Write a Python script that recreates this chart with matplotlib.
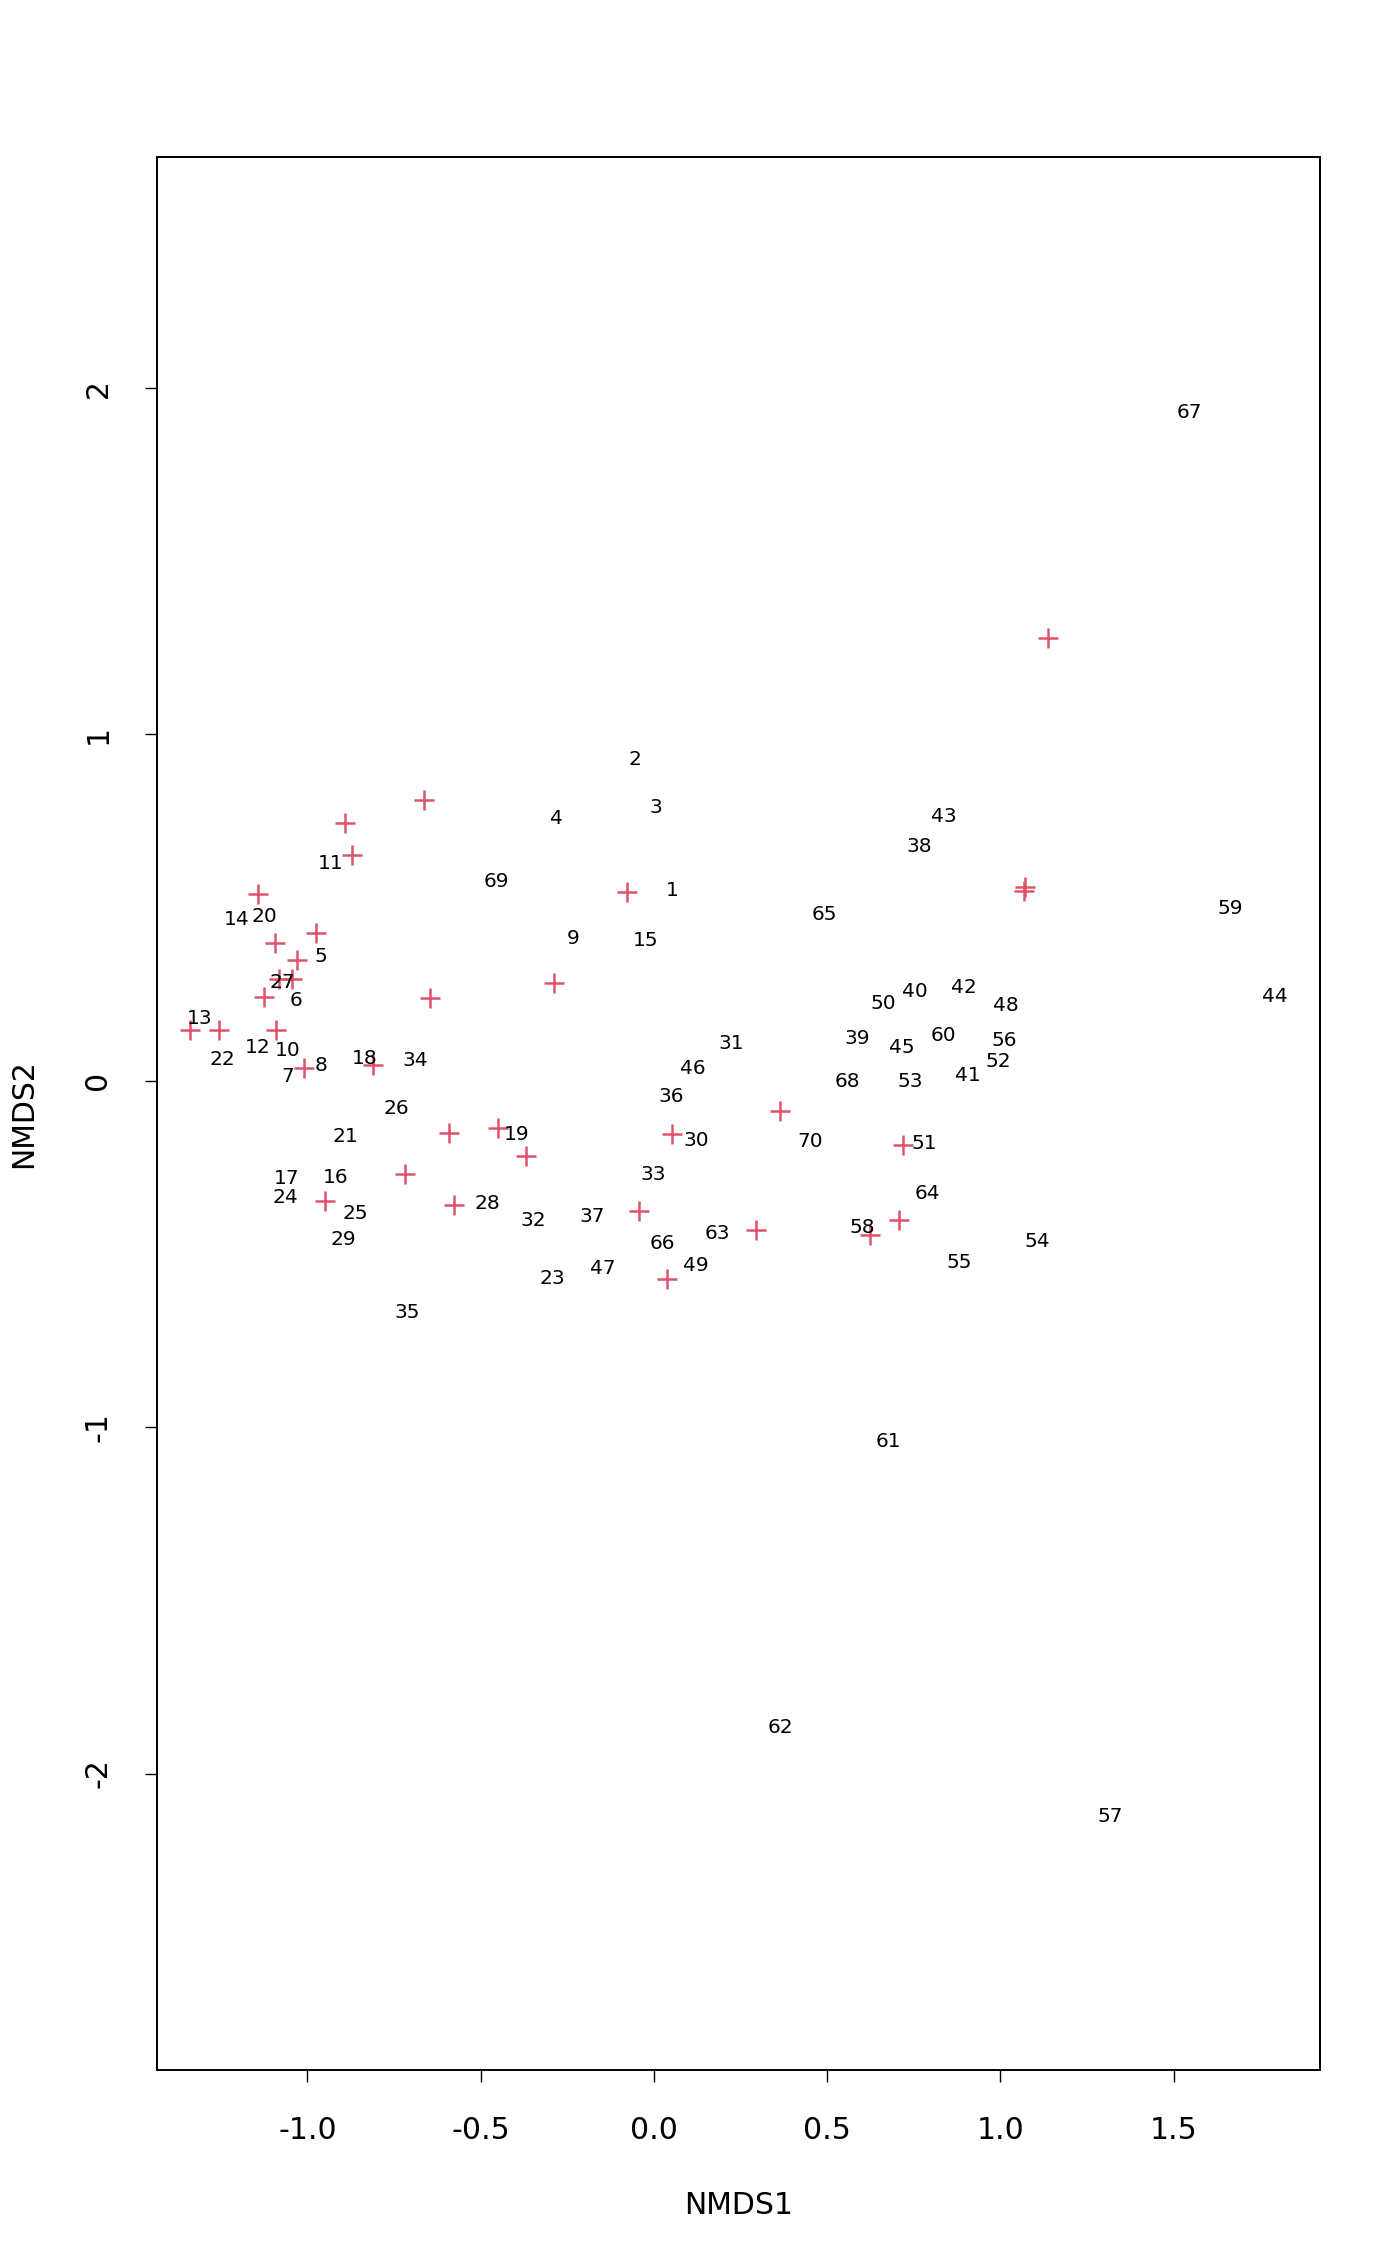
import matplotlib
matplotlib.use("Agg")
import matplotlib.pyplot as plt

# Site scores (text labels)
site_labels = [str(i) for i in range(1, 71)]
site_x = [0.054, -0.054, 0.005, -0.281, -0.962, -1.034, -1.056, -0.961, -0.232, -1.056,
          -0.934, -1.143, -1.310, -1.204, -0.025, -0.917, -1.060, -0.836, -0.397, -1.125,
          -0.889, -1.244, -0.294, -1.064, -0.861, -0.742, -1.072, -0.482, -0.895, 0.122,
          0.224, -0.347, -0.001, -0.688, -0.713, 0.049, -0.177, 0.765, 0.587, 0.752,
          0.905, 0.894, 0.836, 1.791, 0.715, 0.111, -0.148, 1.015, 0.120, 0.661,
          0.779, 0.994, 0.741, 1.105, 0.880, 1.010, 1.316, 0.600, 1.662, 0.836,
          0.677, 0.364, 0.184, 0.789, 0.492, 0.025, 1.545, 0.557, -0.454, 0.452]
site_y = [0.554, 0.932, 0.794, 0.762, 0.363, 0.235, 0.016, 0.048, 0.416, 0.091,
          0.630, 0.101, 0.185, 0.469, 0.408, -0.274, -0.277, 0.068, -0.150, 0.479,
          -0.156, 0.064, -0.566, -0.332, -0.380, -0.075, 0.287, -0.350, -0.453, -0.169,
          0.111, -0.398, -0.268, 0.062, -0.665, -0.041, -0.389, 0.681, 0.125, 0.262,
          0.020, 0.274, 0.766, 0.246, 0.101, 0.038, -0.539, 0.221, -0.530, 0.228,
          -0.178, 0.059, 0.001, -0.459, -0.521, 0.120, -2.121, -0.420, 0.500, 0.136,
          -1.0375, -1.8625, -0.438, -0.322, 0.483, -0.466, 1.933, 0.001, 0.579, -0.170]

# Species scores (red crosses)
species_x = [-0.663, -0.891, -0.870, -1.142, -0.974, -1.093, -1.030, -1.082, -1.044, -1.124,
             -0.646, -1.338, -1.254, -1.091, -1.010, -0.810,
             -0.591, -0.718, -0.948, -0.576,
             -0.449, -0.368, 0.053, 0.364, -0.042, 0.294, 0.038,
             0.718, 0.707, 0.623,
             1.072, 1.068,
             -0.078, -0.289,
             1.136]
species_y = [0.812, 0.743, 0.651, 0.538, 0.426, 0.397, 0.348, 0.294, 0.294, 0.241,
             0.238, 0.148, 0.148, 0.146, 0.036, 0.045,
             -0.152, -0.270, -0.348, -0.360,
             -0.137, -0.218, -0.155, -0.088, -0.377, -0.431, -0.572,
             -0.186, -0.403, -0.446,
             0.560, 0.548,
             0.546, 0.281,
             1.279]

x_ticks = [-1.0, -0.5, 0.0, 0.5, 1.0, 1.5]
x_ticklabels = ["-1.0", "-0.5", "0.0", "0.5", "1.0", "1.5"]
y_ticks = [-2, -1, 0, 1, 2]
y_ticklabels = ["-2", "-1", "0", "1", "2"]

W, H = 1400, 2266
fig = plt.figure(figsize=(W / 100, H / 100), dpi=100)
left, right, top, bottom = 157.3, 1320.0, 157.0, 2070.0
ax = fig.add_axes([left / W, 1 - bottom / H, (right - left) / W, (bottom - top) / H])
ax.set_xlim(-1.433, 1.922)
ax.set_ylim(-2.856, 2.667)

ax.plot(species_x, species_y, linestyle="none", marker="+", color="#DF536B",
        markersize=14.5, markeredgewidth=1.8)
for lab, x, y in zip(site_labels, site_x, site_y):
    ax.text(x, y - 0.004, lab, ha="center", va="center", fontsize=14.5, color="black",
            family="DejaVu Sans")

ax.set_xticks(x_ticks)
ax.set_xticklabels(x_ticklabels)
ax.set_yticks(y_ticks)
ax.set_yticklabels(y_ticklabels, rotation=90, va="center")
ax.tick_params(axis="both", direction="out", length=8.3, width=1.0, labelsize=21.5,
               colors="black")
ax.tick_params(axis="x", pad=25)
ax.tick_params(axis="y", pad=24)
for s in ax.spines.values():
    s.set_linewidth(1.4)
    s.set_color("black")

fig.text((left + right) / 2 / W, 1 - 2206 / H, "NMDS1", ha="center", va="center",
         fontsize=21.5)
fig.text(24 / W, 1 - (top + bottom) / 2 / H, "NMDS2", ha="center", va="center",
         rotation=90, fontsize=21.5)

fig.savefig("out.png", dpi=100, facecolor="white")
